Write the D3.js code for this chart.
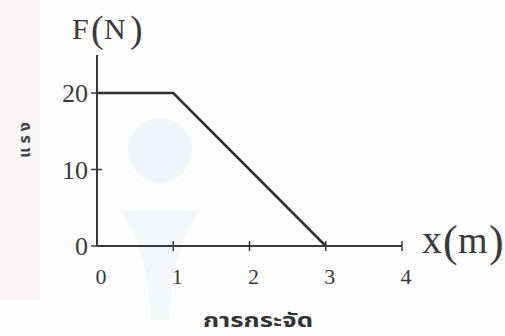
<!DOCTYPE html>
<html>
<head>
<meta charset="utf-8">
<script src="https://cdn.jsdelivr.net/npm/d3@7"></script>
<style>
  html, body { margin: 0; padding: 0; background: #fdfdfd; }
  svg { display: block; }
</style>
</head>
<body>
<svg id="chart" width="505" height="336"></svg>
<script>
// Force–displacement data
const displacement = [0, 1, 3];
const force = [20, 20, 0];
const xTicks = [0, 1, 2, 3, 4];
const yTicks = [0, 10, 20];
const xTickLabels = ["0", "1", "2", "3", "4"];
const yTickLabels = ["0", "10", "20"];

const svg = d3.select("#chart");
const serif = "'Liberation Serif', 'Times New Roman', serif";
const thai = "'Noto Sans Thai', 'Noto Sans', 'DejaVu Sans', sans-serif";
const ink = "#3a3a3a";

// faint background tint
svg.append("rect").attr("width", 505).attr("height", 336).attr("fill", "#fdfdfd");
svg.append("rect").attr("x", 0).attr("y", 0).attr("width", 40).attr("height", 300)
  .attr("fill", "#f8f6f6");
svg.append("circle").attr("cx", 160).attr("cy", 150).attr("r", 32).attr("fill", "#f3f4f9");
svg.append("path")
  .attr("d", "M120,210 Q150,250 150,320 L170,320 Q170,250 200,210 Z")
  .attr("fill", "#f5f6fa");

const x = d3.scaleLinear().domain([0, 4]).range([97, 402]);
const y = d3.scaleLinear().domain([0, 20]).range([246, 93]);

// axes
svg.append("line")
  .attr("x1", x(0)).attr("x2", x(0)).attr("y1", 55).attr("y2", y(0))
  .attr("stroke", ink).attr("stroke-width", 2);
svg.append("line")
  .attr("x1", x(0)).attr("x2", x(4)).attr("y1", y(0)).attr("y2", y(0))
  .attr("stroke", ink).attr("stroke-width", 2);

// y ticks
svg.selectAll(".ytick").data(yTicks).join("line")
  .attr("x1", x(0) - 6).attr("x2", d => d === 10 ? x(0) + 5 : x(0))
  .attr("y1", d => y(d)).attr("y2", d => y(d))
  .attr("stroke", ink).attr("stroke-width", 1.5);

// x ticks
svg.selectAll(".xtick").data(xTicks.filter(d => d > 0)).join("line")
  .attr("x1", d => x(d)).attr("x2", d => x(d))
  .attr("y1", y(0) - 5).attr("y2", y(0) + 5)
  .attr("stroke", ink).attr("stroke-width", 1.5);

// y tick labels
svg.selectAll(".ylab").data(yTicks).join("text")
  .attr("x", x(0) - 9).attr("y", d => y(d) + 9)
  .attr("text-anchor", "end")
  .attr("font-family", serif).attr("font-size", 26).attr("fill", ink)
  .text((d, i) => yTickLabels[i]);

// x tick labels
svg.selectAll(".xlab").data(xTicks).join("text")
  .attr("x", d => x(d) + 4).attr("y", 284)
  .attr("text-anchor", "middle")
  .attr("font-family", serif).attr("font-size", 22).attr("fill", ink)
  .text((d, i) => xTickLabels[i]);

// force curve
const line = d3.line().x((d, i) => x(displacement[i])).y(d => y(d));
svg.append("path")
  .attr("d", line(force))
  .attr("fill", "none").attr("stroke", "#2e2e2e").attr("stroke-width", 2.5)
  .attr("stroke-linejoin", "miter");

// axis titles
const fN = svg.append("text").attr("font-family", serif).attr("fill", ink).attr("y", 39);
fN.append("tspan").attr("x", 72).attr("font-size", 30).text("F");
fN.append("tspan").attr("x", 91).attr("font-size", 38).attr("dy", 3).text("(");
fN.append("tspan").attr("x", 104).attr("font-size", 30).attr("dy", -3).text("N");
fN.append("tspan").attr("x", 130).attr("font-size", 38).attr("dy", 3).text(")");

const xm = svg.append("text").attr("font-family", serif).attr("fill", ink).attr("y", 253);
xm.append("tspan").attr("x", 422).attr("font-size", 40).text("x");
xm.append("tspan").attr("x", 443).attr("font-size", 44).attr("dy", 3).text("(");
xm.append("tspan").attr("x", 458).attr("font-size", 38).attr("dy", -3).text("m");
xm.append("tspan").attr("x", 489).attr("font-size", 44).attr("dy", 3).text(")");

// Thai axis captions
svg.append("text")
  .attr("transform", "translate(30,138) rotate(-90)")
  .attr("text-anchor", "middle")
  .attr("font-family", thai).attr("font-weight", "bold").attr("font-size", 16)
  .attr("letter-spacing", 4)
  .attr("fill", "#444")
  .text("แรง");

svg.append("text")
  .attr("x", 203).attr("y", 327)
  .attr("font-family", thai).attr("font-weight", "bold").attr("font-size", 20)
  .attr("textLength", 110).attr("lengthAdjust", "spacingAndGlyphs")
  .attr("fill", "#333")
  .text("การกระจัด");
</script>
</body>
</html>
